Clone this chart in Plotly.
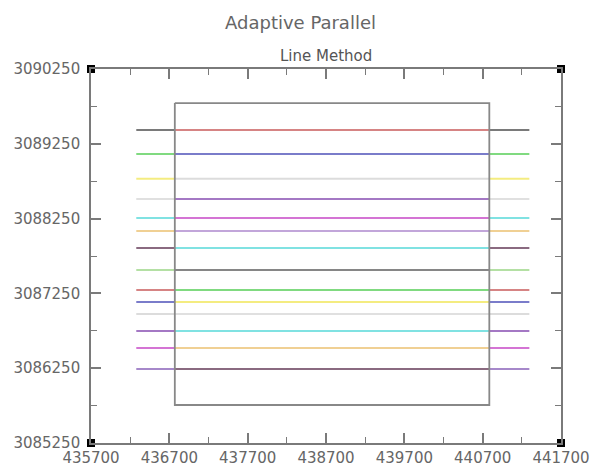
import plotly.graph_objects as go

# Axis extents and ticks
x_range = [435700, 441700]
y_range = [3085250, 3090250]
x_ticks = [435700, 436700, 437700, 438700, 439700, 440700, 441700]
y_ticks = [3085250, 3086250, 3087250, 3088250, 3089250, 3090250]

# Boundary rectangle (corners)
rect_x = [436770, 440785, 440785, 436770, 436770]
rect_y = [3089795, 3089795, 3085758, 3085758, 3089795]

# Parallel lines: horizontal extent and y positions
line_x_start = 436278
line_x_end = 441296
line_y = [3089434, 3089114, 3088783, 3088512, 3088258, 3088084, 3087857,
          3087563, 3087295, 3087135, 3086975, 3086747, 3086520, 3086239]

outer_colors = ["#7a7a7a", "#80da80", "#f4ec80", "#e0e0e0", "#80e2e2", "#f0d094", "#8a6a80",
                "#b4e0a4", "#d68484", "#7a7cca", "#dcdcdc", "#a478c4", "#d474d4", "#a688ca"]
inner_colors = ["#d68484", "#7a7cca", "#dcdcdc", "#a478c4", "#d474d4", "#c2a6da", "#80e2e2",
                "#868686", "#80da80", "#f4ec80", "#e0e0e0", "#80e2e2", "#f0d094", "#8a6a80"]

# Corner markers of the frame
corner_x = [435700, 441700, 435700, 441700]
corner_y = [3090250, 3090250, 3085250, 3085250]

fig = go.Figure()

x0, x1 = rect_x[0], rect_x[1]
for y, oc, ic in zip(line_y, outer_colors, inner_colors):
    fig.add_trace(go.Scatter(x=[line_x_start, x0], y=[y, y], mode="lines",
                             line=dict(color=oc, width=2), hoverinfo="skip", showlegend=False))
    fig.add_trace(go.Scatter(x=[x0, x1], y=[y, y], mode="lines",
                             line=dict(color=ic, width=2), hoverinfo="skip", showlegend=False))
    fig.add_trace(go.Scatter(x=[x1, line_x_end], y=[y, y], mode="lines",
                             line=dict(color=oc, width=2), hoverinfo="skip", showlegend=False))

fig.add_trace(go.Scatter(x=rect_x, y=rect_y, mode="lines",
                         line=dict(color="#888888", width=1.8), showlegend=False))

fig.add_trace(go.Scatter(x=corner_x, y=corner_y, mode="markers",
                         marker=dict(symbol="square", size=8, color="black"),
                         cliponaxis=False, showlegend=False))

axis_common = dict(
    showgrid=False, zeroline=False, showline=True, mirror="ticks",
    linecolor="#7a7a7a", linewidth=1.6, automargin=False,
    ticks="inside", ticklen=10, tickwidth=1.5, tickcolor="#7a7a7a",
    tickfont=dict(family="DejaVu Sans", size=15, color="#666666"),
)

fig.update_xaxes(range=x_range, tickvals=x_ticks, ticktext=[str(v) for v in x_ticks],
                 minor=dict(dtick=500, tick0=435700, ticks="inside", ticklen=6,
                            tickcolor="#7a7a7a", tickwidth=1.2),
                 ticklabelstandoff=0, **axis_common)
fig.update_yaxes(range=y_range, tickvals=y_ticks, ticktext=[str(v) for v in y_ticks],
                 minor=dict(dtick=500, tick0=3085250, ticks="inside", ticklen=6,
                            tickcolor="#7a7a7a", tickwidth=1.2),
                 ticklabelstandoff=6, **axis_common)

fig.update_layout(
    width=592, height=467,
    margin=dict(l=91, r=31, t=69, b=24),
    paper_bgcolor="white", plot_bgcolor="white",
    showlegend=False,
    annotations=[
        dict(text="Adaptive Parallel", xref="paper", yref="paper", x=0.445, y=1,
             yshift=47, xanchor="center", yanchor="middle", showarrow=False,
             font=dict(family="DejaVu Sans", size=18, color="#666666")),
        dict(text="Line Method", xref="paper", yref="paper", x=0.5, y=1,
             yshift=13, xanchor="center", yanchor="middle", showarrow=False,
             font=dict(family="DejaVu Sans", size=15, color="#555555")),
    ],
)

fig.write_html("out.html", config={"displayModeBar": False},
               post_script="document.body.style.margin='0px';document.body.style.overflow='hidden';")
